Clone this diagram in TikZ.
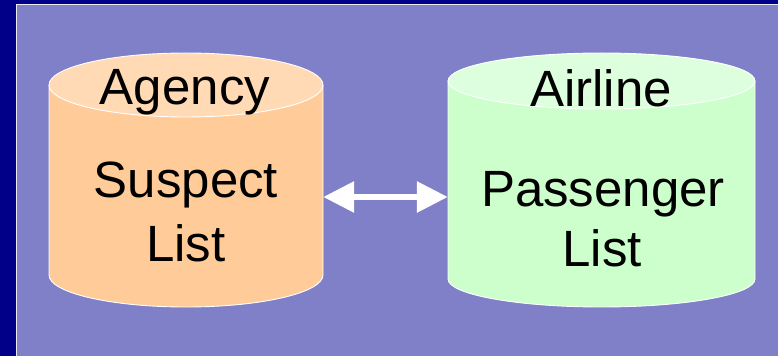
\documentclass[tikz,border=0pt]{standalone}
\usepackage{fontspec}
\setmainfont{Liberation Sans}
\usetikzlibrary{arrows.meta}
\definecolor{navy}{HTML}{000088}
\definecolor{panel}{HTML}{7F80C7}
\definecolor{peach}{HTML}{FFCC99}
\definecolor{peachtop}{HTML}{FFDAB4}
\definecolor{mint}{HTML}{CCFFCC}
\definecolor{minttop}{HTML}{DDFFDD}
\tikzset{
  rim/.style={draw=white, line width=0.9pt},
  label/.style={anchor=base, inner sep=0pt, font=\fontsize{51}{62}\selectfont, text=black},
  hull/.style={inner sep=0pt, draw=none},
  link/.style={white, line width=6pt, {Triangle[length=31pt,width=30pt]}-{Triangle[length=31pt,width=30pt]}}
}
\begin{document}
\begin{tikzpicture}[x=1pt,y=1pt]
  \useasboundingbox (0,0) rectangle (778,356);
  % frame and panel
  \fill[navy] (0,0) rectangle (778,356);
  \fill[panel] (16,0) rectangle (778,352);
  \draw[white!85!panel, line width=1pt] (16.5,0) -- (16.5,351.5) -- (778,351.5);

  % left store: body then lighter top
  \filldraw[fill=peach, rim] (49,271) -- (49,81)
    arc[start angle=180, end angle=360, x radius=137pt, y radius=32pt] -- (323,271);
  \filldraw[fill=peachtop, rim] (186,271) ellipse [x radius=137pt, y radius=32pt];

  % right store
  \filldraw[fill=mint, rim] (448,275) -- (448,77)
    arc[start angle=180, end angle=360, x radius=153.5pt, y radius=28pt] -- (755,275);
  \filldraw[fill=minttop, rim] (601.5,275) ellipse [x radius=153.5pt, y radius=28pt];

  % outlines of the two stores, used as connector ends
  \node[hull, minimum width=274pt, minimum height=190pt] (agency) at (186,176) {};
  \node[hull, minimum width=307pt, minimum height=198pt] (airline) at (601.5,176) {};

  % texts
  \node[label] (agencyname) at (185,251) {Agency};
  \node[label] (suspect) at (186,158) {Suspect};
  \node[label] (suspectlist) at (186,94) {List};
  \node[label] (airlinename) at (601,249) {Airline};
  \node[label] (passenger) at (603,149) {Passenger};
  \node[label] (passengerlist) at (602,89) {List};

  % two-way link
  \draw[link] (agency.east |- 0,159) -- (airline.west |- 0,159);
\end{tikzpicture}
\end{document}
